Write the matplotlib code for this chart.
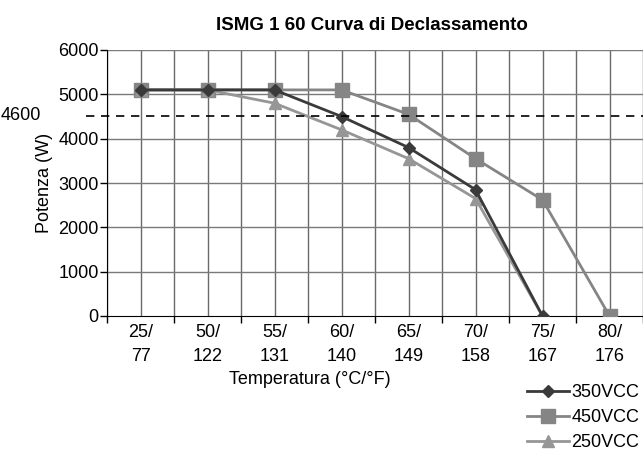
import numpy as np
import matplotlib.pyplot as plt

# Données
temperature = ['25/\n77', '50/\n122', '55/\n131', '60/\n140', '65/\n149', '70/\n158', '75/\n167', '80/\n176']
vcc350 = [5100, 5100, 5100, 4500, 3800, 2850, 0]
vcc450 = [5100, 5100, 5100, 5100, 4550, 3550, 2620, 0]
vcc250 = [5100, 5100, 4800, 4200, 3550, 2650, 0]
limite = 4520
limite_label = '4600'

plt.rcParams['font.family'] = ['Liberation Sans', 'DejaVu Sans']
fs = 13

fig = plt.figure(figsize=(6.43, 4.53), dpi=100)
ax = fig.add_axes([107 / 643, 1 - 316 / 453, 536 / 643, 266 / 453])

x = np.arange(len(temperature))

# Grille : lignes verticales au centre et aux bords des catégories
for xv in np.arange(-0.5, len(temperature), 0.5):
    ax.axvline(xv, color='#6a6a6a', lw=1.0, zorder=1)
for yv in range(1000, 7000, 1000):
    ax.axhline(yv, color='#7a7a7a', lw=1.0, zorder=1)

ax.plot(x[:len(vcc350)], vcc350, color='#3a3a3a', lw=2, marker='D', markersize=6, label='350VCC', zorder=4)
ax.plot(x[:len(vcc450)], vcc450, color='#858585', lw=2, marker='s', markersize=10, label='450VCC', zorder=3)
ax.plot(x[:len(vcc250)], vcc250, color='#969696', lw=2, marker='^', markersize=9, label='250VCC', zorder=3)

ax.set_xlim(-0.5, len(temperature) - 0.5)
ax.set_ylim(0, 6000)

# Ligne de limite en pointillés qui dépasse à gauche
ax.plot([-0.82, len(temperature) - 0.5], [limite, limite], color='black', lw=1.2,
        dashes=(5, 4), clip_on=False, zorder=5)
fig.text(1 / 643, 1 - 116 / 453, limite_label, ha='left', va='center', fontsize=fs)

ax.set_yticks(range(0, 7000, 1000))
ax.set_yticklabels([str(v) for v in range(0, 7000, 1000)], fontsize=fs)
ax.set_xticks(x)
ax.set_xticklabels(temperature, fontsize=fs, linespacing=1.55)
ax.tick_params(axis='x', length=0, pad=6)
ax.tick_params(axis='y', length=5, width=1, color='black', pad=1)
ax.set_xticks(np.arange(-0.5, len(temperature), 1), minor=True)
ax.tick_params(axis='x', which='minor', length=5, width=1, color='black')

for s in ['top', 'right']:
    ax.spines[s].set_visible(False)
ax.spines['left'].set_color('black')
ax.spines['bottom'].set_color('black')
ax.spines['left'].set_zorder(2)

ax.set_ylabel('Potenza (W)', fontsize=fs)
ax.yaxis.set_label_coords(-0.1, 0.5)
fig.text(310 / 643, 1 - 380 / 453, 'Temperatura (°C/°F)', ha='center', va='center', fontsize=fs)
fig.text(372 / 643, 1 - 25 / 453, 'ISMG 1 60 Curva di Declassamento', ha='center', va='center',
         fontsize=13.5, fontweight='bold')

fig.legend(loc='upper left', bbox_to_anchor=(527 / 643, 1 - 384 / 453), frameon=False,
           fontsize=fs, handlelength=2.3, handletextpad=0.15, labelspacing=0.45,
           borderpad=0, borderaxespad=0)

fig.savefig('out.png', dpi=100)
